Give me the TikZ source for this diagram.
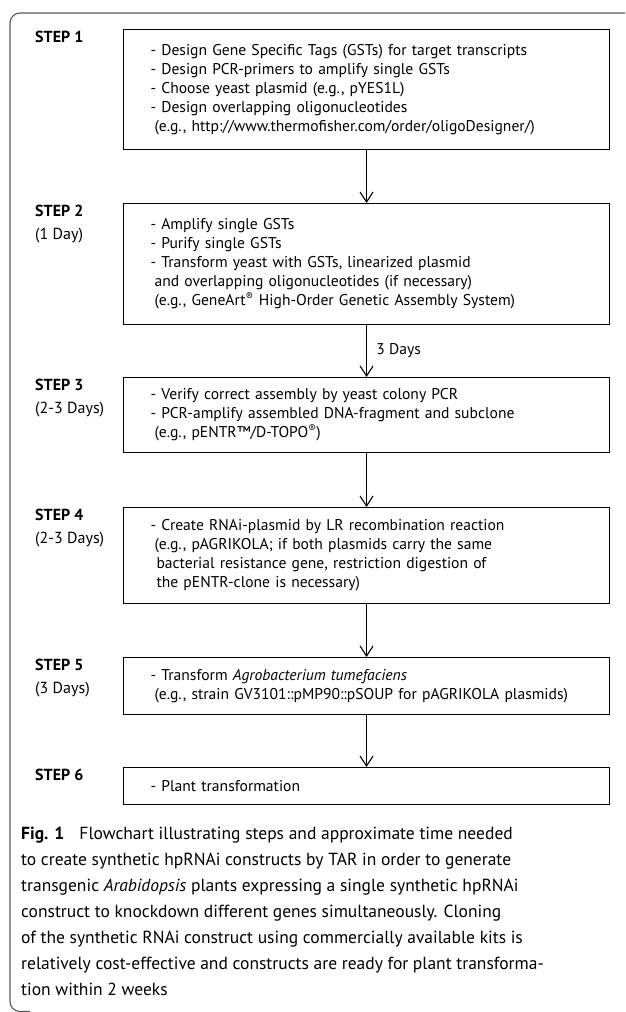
\documentclass[tikz,border=0pt]{standalone}
\usepackage{fontspec}
\setmainfont{PT Sans}
\usetikzlibrary{arrows.meta}
\definecolor{framegray}{gray}{0.35}
\hfuzz=40pt
\begin{document}
\begin{tikzpicture}[x=1pt,y=-1pt,
    stepbox/.style={draw,line width=1.1pt,anchor=north west,minimum width=486pt,
      inner xsep=27pt,inner ysep=0pt,text width=432pt,align=left,
      font=\fontsize{15.6}{19}\selectfont},
    steplabel/.style={anchor=north west,inner sep=0pt,align=left,
      font=\fontsize{16}{23}\selectfont},
    flow/.style={line width=1.1pt,-{Straight Barb[length=10pt,width=13pt,line width=1.1pt]}}]
    \useasboundingbox (0,0) rectangle (625,1012);
    % outer frame
    \draw[framegray,line width=1.1pt,rounded corners=10pt] (625,13) -- (10,13) -- (10,1011.5) -- (30,1011.5);
    % boxes
    \node[stepbox,minimum height=120pt] (S1) at (123,29) {- Design Gene Specific Tags (GSTs) for target transcripts\\
        - Design PCR-primers to amplify single GSTs\\
        - Choose yeast plasmid (e.g., pYES1L)\\
        - Design overlapping oligonucleotides\\
        \hspace*{4pt}(e.g., http://www.thermofisher.com/order/oligoDesigner/)};
    \node[stepbox,minimum height=121pt] (S2) at (123,203) {- Amplify single GSTs\\
        - Purify single GSTs\\
        - Transform yeast with GSTs, linearized plasmid\\
        \hspace*{4pt}and overlapping oligonucleotides (if necessary)\\
        \hspace*{4pt}(e.g., GeneArt\textsuperscript{®} High-Order Genetic Assembly System)};
    \node[stepbox,minimum height=75pt] (S3) at (123,377) {- Verify correct assembly by yeast colony PCR\\
        - PCR-amplify assembled DNA-fragment and subclone\\
        \hspace*{4pt}(e.g., pENTR™/D-TOPO\textsuperscript{®})};
    \node[stepbox,minimum height=96pt] (S4) at (123,507) {- Create RNAi-plasmid by LR recombination reaction\\
        \hspace*{4pt}(e.g., pAGRIKOLA; if both plasmids carry the same\\
        \hspace*{6pt}bacterial resistance gene, restriction digestion of\\
        \hspace*{6pt}the pENTR-clone is necessary)};
    \node[stepbox,minimum height=57pt] (S5) at (123,657) {- Transform \textit{Agrobacterium tumefaciens}\\
        \hspace*{4pt}(e.g., strain GV3101::pMP90::pSOUP for pAGRIKOLA plasmids)};
    \node[stepbox,minimum height=37pt] (S6) at (123,767) {- Plant transformation};
    % step labels
    \node[steplabel] (L1) at (35,31) {\textbf{STEP 1}};
    \node[steplabel] (L2) at (35,205) {\textbf{STEP 2}\\(1 Day)};
    \node[steplabel] (L3) at (35,379) {\textbf{STEP 3}\\(2-3 Days)};
    \node[steplabel] (L4) at (35,509) {\textbf{STEP 4}\\(2-3 Days)};
    \node[steplabel] (L5) at (35,659) {\textbf{STEP 5}\\(3 Days)};
    \node[steplabel] (L6) at (35,769) {\textbf{STEP 6}};
    % arrows
    \draw[flow] (S1) -- (S2);
    \draw[flow] (S2) -- node[right,xshift=6pt,font=\fontsize{15.6}{19}\selectfont] (D3) {3 Days} (S3);
    \draw[flow] (S3) -- (S4);
    \draw[flow] (S4) -- (S5);
    \draw[flow] (S5) -- (S6);
    % caption
    \node[anchor=north west,inner sep=0pt,align=left,font=\fontsize{17.5}{26}\selectfont] (cap) at (21,827)
      {\textbf{Fig. 1}\hspace{0.6em} Flowchart illustrating steps and approximate time needed\\
       to create synthetic hpRNAi constructs by TAR in order to generate\\
       transgenic \textit{Arabidopsis} plants expressing a single synthetic hpRNAi\\
       construct to knockdown different genes simultaneously. Cloning\\
       of the synthetic RNAi construct using commercially available kits is\\
       relatively cost-effective and constructs are ready for plant transforma-\\
       tion within 2 weeks};
\end{tikzpicture}
\end{document}
